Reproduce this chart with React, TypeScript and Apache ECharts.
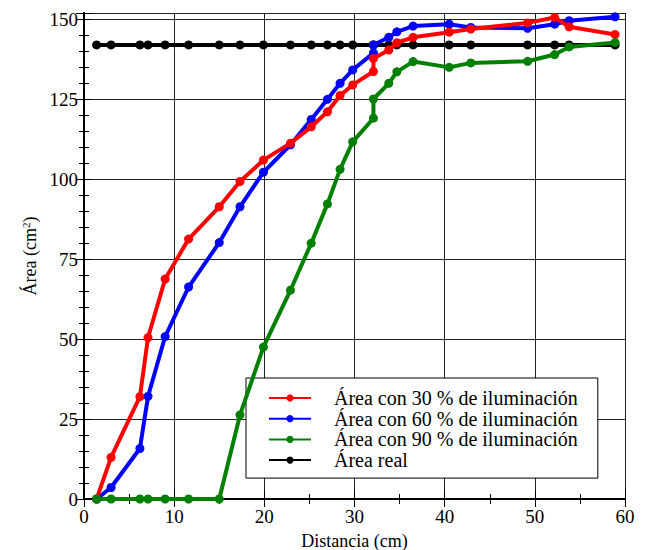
import React, { useEffect, useRef } from "react";
import * as echarts from "echarts";

const distances = [1.4, 3.0, 6.2, 7.1, 9.0, 11.6, 15.0, 17.3, 19.9, 22.9, 25.2, 27.0, 28.4, 29.8, 32.1, 32.1, 33.8, 34.7, 36.5, 40.5, 42.9, 49.2, 52.2, 53.8, 58.9];
const area30 = [0, 13, 32, 50.5, 68.8, 81.3, 91.4, 99.3, 106, 111.3, 116.4, 121.1, 126.2, 129.5, 133.7, 137.8, 140.4, 142.7, 144.4, 146, 147, 148.9, 150.6, 147.7, 145.3];
const area60 = [0, 3.6, 15.8, 32.1, 50.8, 66.3, 80.2, 91.4, 102.2, 110.8, 118.7, 125, 130, 134.2, 139.5, 142, 144.4, 146.1, 147.9, 148.5, 147.5, 147.2, 148.5, 149.6, 150.8];
const area90 = [0, 0, 0, 0, 0, 0, 0, 26.3, 47.5, 65.3, 80, 92.3, 103.1, 111.7, 119.1, 125.1, 130, 133.6, 136.8, 135, 136.4, 136.9, 139, 141.4, 142.8];
const areaReal = [142, 142, 142, 142, 142, 142, 142, 142, 142, 142, 142, 142, 142, 142, 142, 142, 142, 142, 142, 142, 142, 142, 142, 142, 142];

const seriesNames = [
  "Área con 30 % de iluminación",
  "Área con 60 % de iluminación",
  "Área con 90 % de iluminación",
  "Área real",
];
const seriesColors = ["#ff0000", "#0000ff", "#008000", "#000000"];
const seriesZ = [4, 3, 5, 2];
const seriesValues = [area30, area60, area90, areaReal];

const FONT = "Liberation Serif";

export default function App() {
  const ref = useRef<HTMLDivElement>(null);
  useEffect(() => {
    document.body.style.margin = "0";
    if (!ref.current) return;
    const chart = echarts.init(ref.current, undefined, { renderer: "svg" });
    const axisLineStyle = { show: true, lineStyle: { color: "#000", width: 2 } };
    const tickStyle = { show: true, inside: true, length: 8, lineStyle: { color: "#000", width: 1 } };
    const minorStyle = { show: true, length: 5, lineStyle: { color: "#000", width: 1 } };
    const option: any = {
      animation: false,
      backgroundColor: "#fff",
      textStyle: { fontFamily: FONT },
      grid: { left: 84, width: 541, top: 13, height: 486, containLabel: false, outerBoundsMode: "none" },
      legend: {
        left: 246,
        top: 378,
        orient: "vertical",
        z: 1,
        padding: [10, 20, 8, 22],
        itemGap: 0.7,
        itemWidth: 42,
        itemHeight: 9,
        backgroundColor: "#fff",
        borderColor: "#000",
        borderWidth: 1,
        borderRadius: 0,
        data: seriesNames,
        textStyle: { fontFamily: FONT, fontSize: 20, color: "#000", padding: [0, 0, 0, 18], lineHeight: 20 },
      },
      xAxis: [
        {
          type: "value",
          min: 0,
          max: 60,
          interval: 10,
          minorTick: { ...minorStyle, splitNumber: 2 },
          axisLine: axisLineStyle,
          axisTick: tickStyle,
          splitLine: { show: true, lineStyle: { color: "#222", width: 1 } },
          axisLabel: { color: "#000", fontFamily: FONT, fontSize: 19, margin: 8 },
          name: "Distancia (cm)",
          nameLocation: "middle",
          nameGap: 33,
          nameTextStyle: { color: "#000", fontFamily: FONT, fontSize: 18 },
        },
        {
          type: "value",
          position: "top",
          min: 0,
          max: 60,
          interval: 10,
          minorTick: { ...minorStyle, splitNumber: 2 },
          axisLine: axisLineStyle,
          axisTick: tickStyle,
          splitLine: { show: false },
          axisLabel: { show: false },
        },
      ],
      yAxis: [
        {
          type: "value",
          min: 0,
          max: 152,
          interval: 25,
          minorTick: { ...minorStyle, splitNumber: 5 },
          axisLine: axisLineStyle,
          axisTick: tickStyle,
          splitLine: { show: true, lineStyle: { color: "#222", width: 1 } },
          axisLabel: {
            color: "#000",
            fontFamily: FONT,
            fontSize: 19,
            margin: 6,
            formatter: (v: number) => (v % 25 === 0 ? String(v) : ""),
          },
          name: "Área (cm{sup|2})",
          nameLocation: "middle",
          nameGap: 44,
          nameRotate: 90,
          nameTextStyle: {
            color: "#000",
            fontFamily: FONT,
            fontSize: 18,
            rich: {
              sup: { fontFamily: FONT, fontSize: 11, color: "#000", verticalAlign: "top", padding: [0, 0, 8, 0] },
            },
          },
        },
        {
          type: "value",
          position: "right",
          min: 0,
          max: 152,
          interval: 25,
          minorTick: { ...minorStyle, splitNumber: 5 },
          axisLine: axisLineStyle,
          axisTick: tickStyle,
          splitLine: { show: false },
          axisLabel: { show: false },
        },
      ],
      series: seriesNames.map((name, i) => ({
        name,
        type: "line",
        xAxisIndex: 0,
        yAxisIndex: 0,
        z: seriesZ[i],
        data: distances.map((d, j) => [d, seriesValues[i][j]]),
        symbol: "circle",
        symbolSize: 9,
        showSymbol: true,
        clip: false,
        color: seriesColors[i],
        itemStyle: { color: seriesColors[i] },
        lineStyle: { color: seriesColors[i], width: 4 },
      })),
    };
    chart.setOption(option);
    return () => chart.dispose();
  }, []);
  return <div ref={ref} style={{ width: 646, height: 550, background: "#fff" }} />;
}
